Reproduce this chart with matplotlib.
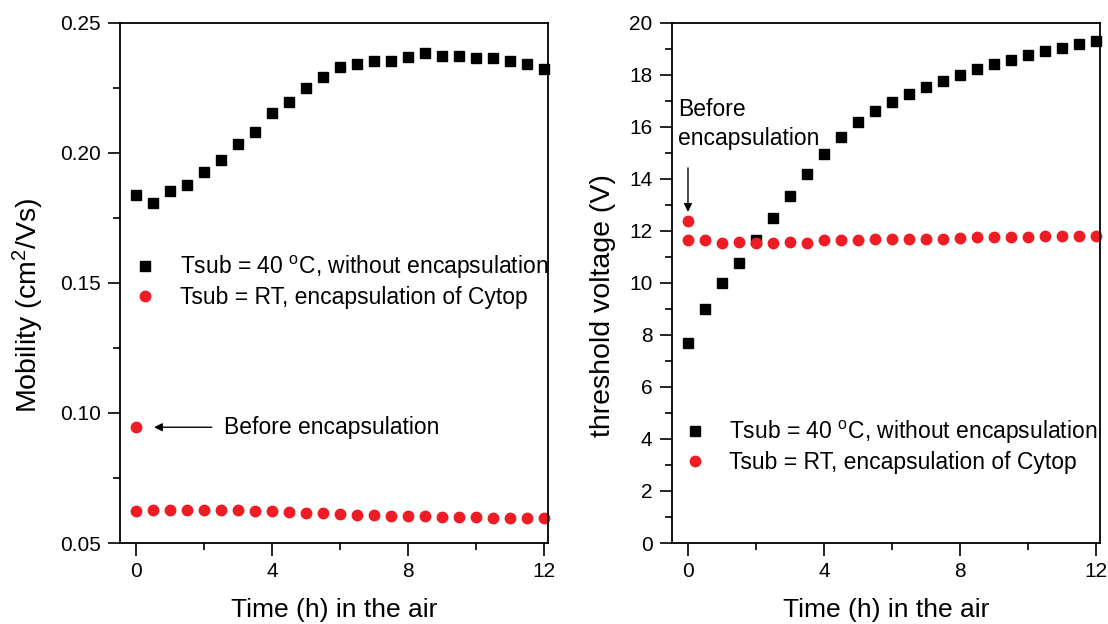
import matplotlib
matplotlib.use("Agg")
import matplotlib.pyplot as plt
from matplotlib.ticker import MultipleLocator

plt.rcParams['font.family'] = ['Liberation Sans', 'DejaVu Sans']
plt.rcParams['mathtext.fontset'] = 'custom'
plt.rcParams['mathtext.rm'] = 'Liberation Sans'
plt.rcParams['mathtext.it'] = 'Liberation Sans:italic'
plt.rcParams['mathtext.bf'] = 'Liberation Sans:bold'

# ---- data ----
time_h = [0, 0.5, 1, 1.5, 2, 2.5, 3, 3.5, 4, 4.5, 5, 5.5, 6, 6.5, 7, 7.5,
          8, 8.5, 9, 9.5, 10, 10.5, 11, 11.5, 12]

mobility_40C = [0.1836, 0.1808, 0.1853, 0.1876, 0.1926, 0.1973, 0.2035, 0.2081,
                0.2152, 0.2195, 0.2250, 0.2292, 0.2328, 0.2342, 0.2351, 0.2353,
                0.2369, 0.2382, 0.2372, 0.2372, 0.2365, 0.2363, 0.2351, 0.2340,
                0.2321]
mobility_RT = [0.0624, 0.0627, 0.0627, 0.0627, 0.0627, 0.0627, 0.0627, 0.0624,
               0.0622, 0.0618, 0.0617, 0.0614, 0.0612, 0.0609, 0.0607, 0.0605,
               0.0603, 0.0603, 0.0601, 0.0600, 0.0599, 0.0598, 0.0598, 0.0596,
               0.0595]
mobility_before = 0.0945

vth_40C = [7.69, 8.98, 9.99, 10.76, 11.66, 12.50, 13.33, 14.18, 14.96, 15.60,
           16.17, 16.62, 16.97, 17.25, 17.53, 17.77, 17.99, 18.22, 18.40, 18.55,
           18.76, 18.91, 19.03, 19.17, 19.28]
vth_RT = [11.63, 11.63, 11.55, 11.58, 11.55, 11.53, 11.58, 11.55, 11.63, 11.63,
          11.65, 11.68, 11.68, 11.70, 11.70, 11.70, 11.73, 11.75, 11.75, 11.75,
          11.78, 11.81, 11.81, 11.81, 11.81]
vth_before = 12.37

label_40C = r"Tsub = 40 $^{\mathrm{o}}$C, without encapsulation"
label_RT = "Tsub = RT, encapsulation of Cytop"
x_ticks = [0, 4, 8, 12]

RED = '#ee1c24'
BLACK = '#000000'

fig = plt.figure(figsize=(11.08, 6.24), dpi=100)
ax1 = fig.add_axes([0.1083, 0.1298, 0.3863, 0.8338])
ax2 = fig.add_axes([0.6065, 0.1298, 0.3863, 0.8338])

msz = 7.5
for ax in (ax1, ax2):
    ax.set_xlim(-0.47, 12.12)
    ax.set_xticks(x_ticks)
    ax.xaxis.set_minor_locator(MultipleLocator(2))
    ax.tick_params(axis='both', which='major', direction='out', length=9,
                   width=1.2, labelsize=15, pad=5, top=False, right=False)
    ax.tick_params(axis='both', which='minor', direction='out', length=5,
                   width=1.2, top=False, right=False)
    for s in ax.spines.values():
        s.set_linewidth(1.3)
    ax.set_xlabel("Time (h) in the air", fontsize=19, labelpad=12)

# left panel
ax1.plot(time_h, mobility_40C, 's', color=BLACK, ms=msz, ls='none', label=label_40C, clip_on=False)
ax1.plot(time_h, mobility_RT, 'o', color=RED, ms=msz, ls='none', label=label_RT, clip_on=False)
ax1.plot([0], [mobility_before], 'o', color=RED, ms=msz, ls='none', clip_on=False)
ax1.set_ylim(0.05, 0.25)
ax1.set_yticks([0.05, 0.10, 0.15, 0.20, 0.25])
ax1.set_yticklabels(["0.05", "0.10", "0.15", "0.20", "0.25"])
ax1.yaxis.set_minor_locator(MultipleLocator(0.025))
ax1.set_ylabel(r"Mobility (cm$^{2}$/Vs)", fontsize=20.5)
ax1.yaxis.set_label_coords(-0.172, 0.457)
ax1.annotate("", xy=(0.53, mobility_before), xytext=(2.23, mobility_before),
             arrowprops=dict(arrowstyle='-|>', color='black', lw=1.0,
                             mutation_scale=12, shrinkA=0, shrinkB=0))
ax1.text(2.59, mobility_before, "Before encapsulation", fontsize=16.5,
         va='center', ha='left')
ax1.legend(loc='center left', bbox_to_anchor=(0.032, 0.503), frameon=False,
           fontsize=16.5, handlelength=1.0, handletextpad=1.0, borderpad=0,
           borderaxespad=0, labelspacing=0.2, markerscale=1.0)

# right panel
ax2.plot(time_h, vth_40C, 's', color=BLACK, ms=msz, ls='none', label=label_40C, clip_on=False)
ax2.plot(time_h, vth_RT, 'o', color=RED, ms=msz, ls='none', label=label_RT, clip_on=False)
ax2.plot([0], [vth_before], 'o', color=RED, ms=msz, ls='none', clip_on=False)
ax2.set_ylim(0, 20)
ax2.yaxis.set_major_locator(MultipleLocator(2))
ax2.yaxis.set_minor_locator(MultipleLocator(1))
ax2.set_ylabel("threshold voltage (V)", fontsize=20.5)
ax2.yaxis.set_label_coords(-0.132, 0.457)
ax2.annotate("", xy=(0, 12.73), xytext=(0, 14.42),
             arrowprops=dict(arrowstyle='-|>', color='black', lw=1.0,
                             mutation_scale=12, shrinkA=0, shrinkB=0))
ax2.text(-0.29, 17.1, "Before\nencapsulation", fontsize=16.5, va='top',
         ha='left', linespacing=1.3)
ax2.legend(loc='center left', bbox_to_anchor=(0.027, 0.186), frameon=False,
           fontsize=16.5, handlelength=1.0, handletextpad=1.0, borderpad=0,
           borderaxespad=0, labelspacing=0.2, markerscale=1.0)

fig.savefig("out.png", dpi=100)
